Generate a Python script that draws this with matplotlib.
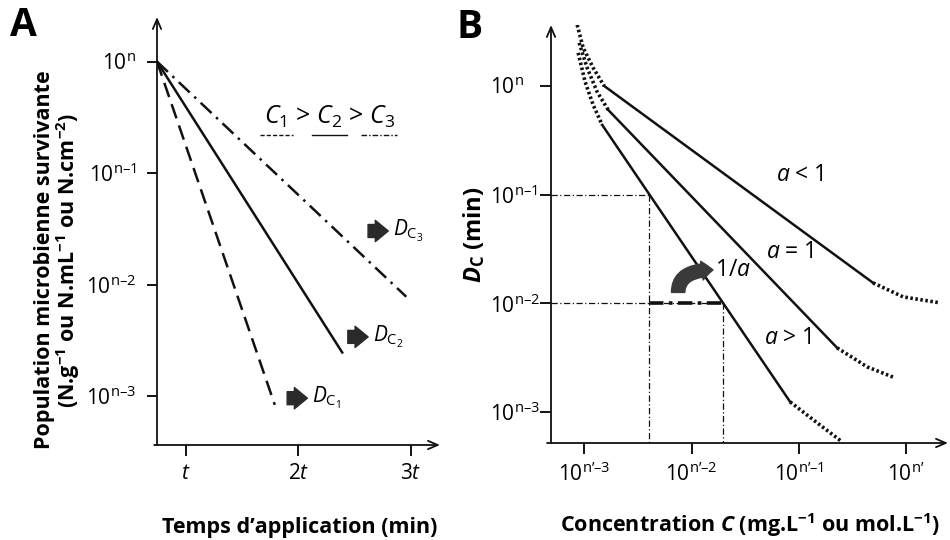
import numpy as np
import matplotlib
matplotlib.use("Agg")
import matplotlib.pyplot as plt
from matplotlib.ticker import NullLocator

plt.rcParams['font.family'] = ['Open Sans', 'DejaVu Sans']
plt.rcParams['mathtext.fontset'] = 'custom'
plt.rcParams['mathtext.rm'] = 'Open Sans'
plt.rcParams['mathtext.it'] = 'Open Sans:italic'
plt.rcParams['mathtext.bf'] = 'Open Sans:bold'
plt.rcParams['mathtext.bfit'] = 'Open Sans:bold:italic'

# ---------------- data : panel A (x in units of t, y as log10 exponent relative to n)
A_start_t = 0.742
A_end_t = [1.79, 2.39, 2.96]          # C1, C2, C3
A_end_exp = [-3.08, -2.61, -2.11]
A_styles = ['--', '-', '-.']
A_xticks = [1, 2, 3]
A_xticklabels = [r'$t$', r'$2t$', r'$3t$']
A_yexp = [0, -1, -2, -3]
A_yticklabels = ["$10^{\\mathrm{n}}$", "$10^{\\mathrm{n\u20131}}$",
                 "$10^{\\mathrm{n\u20132}}$", "$10^{\\mathrm{n\u20133}}$"]
A_D_labels = [r'$\mathit{D}_{\mathrm{C}_1}$', r'$\mathit{D}_{\mathrm{C}_2}$', r'$\mathit{D}_{\mathrm{C}_3}$']
A_D_pos_t = [1.90, 2.44, 2.62]
A_D_pos_exp = [-3.02, -2.47, -1.52]

# ---------------- data : panel B (log10 exponents relative to n' and n)
B_up_x = {'a<1': [-3.066, -3.010, -2.917, -2.815],
          'a=1': [-3.048, -2.973, -2.880, -2.777],
          'a>1': [-3.057, -2.992, -2.917, -2.833]}
B_up_y = {'a<1': [0.561, 0.350, 0.166, 0.0],
          'a=1': [0.396, 0.166, -0.055, -0.221],
          'a>1': [0.304, 0.037, -0.175, -0.359]}
B_lin_x = {'a<1': [-2.815, -0.308], 'a=1': [-2.777, -0.643], 'a>1': [-2.833, -1.081]}
B_lin_y = {'a<1': [0.0, -1.812], 'a=1': [-0.221, -2.410], 'a>1': [-0.359, -2.907]}
B_low_x = {'a<1': [-0.308, -0.028, 0.317], 'a=1': [-0.643, -0.363, -0.103], 'a>1': [-1.081, -0.829, -0.596]}
B_low_y = {'a<1': [-1.812, -1.941, -1.996], 'a=1': [-2.410, -2.585, -2.686], 'a>1': [-2.907, -3.100, -3.275]}
B_curve_labels = {'a<1': r'$a$ < 1', 'a=1': r'$a$ = 1', 'a>1': r'$a$ > 1'}
B_label_x = {'a<1': -0.99, 'a=1': -1.08, 'a>1': -1.10}
B_label_y = {'a<1': -0.82, 'a=1': -1.53, 'a>1': -2.32}
B_ref_levels = [-1, -2]
B_ref_x = [-2.40, -1.71]
B_xexp = [-3, -2, -1, 0]
B_xticklabels = ["$10^{\\mathrm{n\u2019\u20133}}$", "$10^{\\mathrm{n\u2019\u20132}}$",
                 "$10^{\\mathrm{n\u2019\u20131}}$", "$10^{\\mathrm{n\u2019}}$"]
B_yexp = [0, -1, -2, -3]
B_yticklabels = A_yticklabels

W, H = 950, 540
fig = plt.figure(figsize=(9.5, 5.4), dpi=100)
fig.patch.set_facecolor('white')

def axes_px(x0, y0, x1, y1):
    return fig.add_axes([x0 / W, 1 - y1 / H, (x1 - x0) / W, (y1 - y0) / H])

def arrow_axes(ax):
    for s in ax.spines.values():
        s.set_visible(False)
    ap = dict(arrowstyle='->,head_length=0.7,head_width=0.3', lw=1.3, color='#111111',
              shrinkA=0, shrinkB=0)
    ax.annotate('', xy=(1, 0), xytext=(-0.01, 0), xycoords='axes fraction', arrowprops=ap)
    ax.annotate('', xy=(0, 1), xytext=(0, 0), xycoords='axes fraction', arrowprops=ap)

# =================== Panel A
axA = axes_px(157, 17, 440, 445)
axA.set_yscale('log')
axA.set_xlim(A_start_t, 3.26)
axA.set_ylim(10 ** -3.44, 10 ** 0.40)
arrow_axes(axA)
for te, ye, ls in zip(A_end_t, A_end_exp, A_styles):
    kw = dict(color='#111111', lw=1.8, ls=ls)
    if ls == '--':
        kw['dashes'] = (6, 3)
    if ls == '-.':
        kw['dashes'] = (6, 2.5, 1, 2.5)
    axA.plot([A_start_t, te], [1.0, 10 ** ye], **kw)
axA.set_xticks(A_xticks)
axA.set_xticklabels(A_xticklabels)
axA.set_yticks([10.0 ** e for e in A_yexp])
axA.set_yticklabels(A_yticklabels)
axA.yaxis.set_minor_locator(NullLocator())
axA.tick_params(axis='x', direction='out', length=8, width=1.3, labelsize=15, pad=5)
axA.tick_params(axis='y', direction='out', length=7, width=1.3, labelsize=15, pad=8)

# legend-like header
axA.text(2.28, 10 ** -0.50, r'$C_1$ > $C_2$ > $C_3$', fontsize=18, ha='center', va='center')
key_x = [(1.66, 1.95), (2.12, 2.43), (2.56, 2.88)]
for (k0, k1), ls in zip(key_x, A_styles):
    kw = dict(color='#111111', lw=1.0)
    if ls == '--':
        kw['dashes'] = (3, 1.5)
    elif ls == '-.':
        kw['dashes'] = (4, 1.5, 1, 1.5)
    axA.plot([k0, k1], [10 ** -0.656] * 2, **kw)

for lab, xt, ye in zip(A_D_labels, A_D_pos_t, A_D_pos_exp):
    axA.annotate('', xy=(xt + 0.18, 10 ** ye), xytext=(xt, 10 ** ye),
                 arrowprops=dict(arrowstyle='simple,head_width=0.9,head_length=0.55,tail_width=0.55',
                                 color='#2a2a2a', mutation_scale=17, shrinkA=0, shrinkB=0))
    axA.text(xt + 0.22, 10 ** ye, lab, fontsize=15, ha='left', va='center')

fig.text(10 / W, 1 - 25 / H, 'A', fontsize=28, fontweight='bold', ha='left', va='center')
fig.text(300 / W, 1 - 527 / H, 'Temps d\u2019application (min)', fontsize=15.5, fontweight='bold',
         ha='center', va='center')
fig.text(58 / W, 1 - 260 / H,
         'Population microbienne survivante\n'
         r'(N.g$^{\mathbf{-1}}$ ou N.mL$^{\mathbf{-1}}$ ou N.cm$^{\mathbf{-2}}$)',
         fontsize=15.5, fontweight='bold', rotation=90, ha='center', va='center',
         multialignment='center', linespacing=1.0)

# =================== Panel B
axB = axes_px(551, 25, 948, 443)
axB.set_xscale('log')
axB.set_yscale('log')
axB.set_xlim(10 ** -3.31, 10 ** 0.39)
axB.set_ylim(10 ** -3.285, 10 ** 0.56)
arrow_axes(axB)

x0B = 10 ** -3.31
y0B = 10 ** -3.285
# reference dash-dot lines
for lev, xr in zip(B_ref_levels, B_ref_x):
    axB.plot([x0B, 10 ** xr], [10 ** lev] * 2, color='#111111', lw=0.9, dashes=(5, 2, 1, 2))
    axB.plot([10 ** xr] * 2, [10 ** lev, y0B], color='#111111', lw=0.9, dashes=(5, 2, 1, 2))
axB.plot([10 ** B_ref_x[0], 10 ** B_ref_x[1]], [10 ** B_ref_levels[1]] * 2,
         color='#111111', lw=2.6, dashes=(4, 1.5, 1, 1.5))

for key in ['a<1', 'a=1', 'a>1']:
    axB.plot(10 ** np.array(B_up_x[key]), 10 ** np.array(B_up_y[key]), color='#111111',
             lw=2.6, dashes=(0.7, 0.7))
    axB.plot(10 ** np.array(B_lin_x[key]), 10 ** np.array(B_lin_y[key]), color='#111111', lw=1.8)
    axB.plot(10 ** np.array(B_low_x[key]), 10 ** np.array(B_low_y[key]), color='#111111',
             lw=2.6, dashes=(0.7, 0.7))
    axB.text(10 ** B_label_x[key], 10 ** B_label_y[key], B_curve_labels[key], fontsize=16.5,
             ha='center', va='center')

# 1/a bent arrow
axB.annotate('', xy=(10 ** -1.80, 10 ** -1.693), xytext=(10 ** -2.125, 10 ** -1.90),
             arrowprops=dict(arrowstyle='simple,head_width=0.85,head_length=0.5,tail_width=0.6',
                             connectionstyle='angle3,angleA=90,angleB=0',
                             color='#3a3a3a', mutation_scale=16, shrinkA=0, shrinkB=0))
axB.text(10 ** -1.785, 10 ** -1.69, r'1/$a$', fontsize=16.5, ha='left', va='center')

axB.set_xticks([10.0 ** e for e in B_xexp])
axB.set_xticklabels(B_xticklabels)
axB.set_yticks([10.0 ** e for e in B_yexp])
axB.set_yticklabels(B_yticklabels)
axB.xaxis.set_minor_locator(NullLocator())
axB.yaxis.set_minor_locator(NullLocator())
axB.tick_params(axis='x', direction='out', length=8, width=1.3, labelsize=15, pad=6)
axB.tick_params(axis='y', direction='out', length=8, width=1.3, labelsize=15, pad=36)
for lbl in axB.get_yticklabels():
    lbl.set_horizontalalignment('left')

fig.text(456 / W, 1 - 27 / H, 'B', fontsize=28, fontweight='bold', ha='left', va='center')
fig.text(750 / W, 1 - 525 / H,
         r'Concentration $\mathbfit{C}$ (mg.L$^{\mathbf{-1}}$ ou mol.L$^{\mathbf{-1}}$)',
         fontsize=15.5, fontweight='bold', ha='center', va='center')
fig.text(474 / W, 1 - 235 / H, r'$\mathbfit{D}_{\mathbf{C}}$ (min)', fontsize=17,
         fontweight='bold', rotation=90, ha='center', va='center')

fig.savefig('out.png', dpi=100)
